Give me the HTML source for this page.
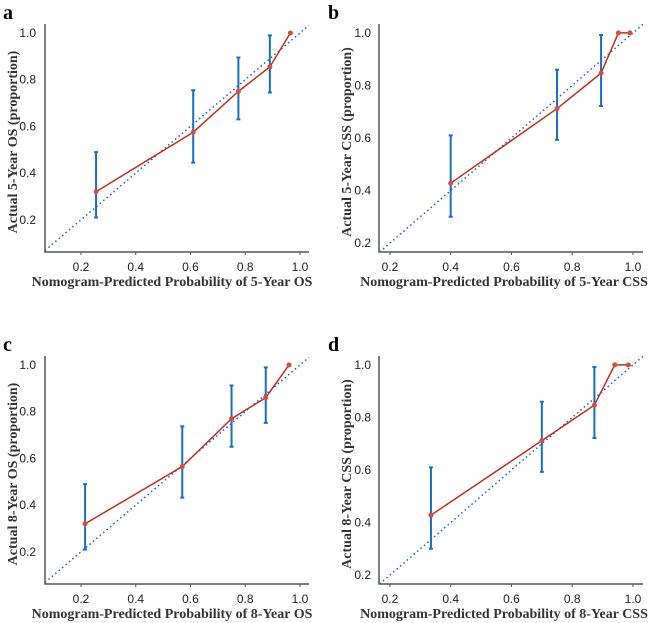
<!DOCTYPE html>
<html><head><meta charset="utf-8">
<style>
body{margin:0;background:#fff;}
svg{display:block;}
.tick{font-family:"Liberation Sans",sans-serif;font-size:12px;fill:#222;}
.title{font-family:"Liberation Serif",serif;font-weight:bold;font-size:14px;fill:#333;}
.letter{font-family:"Liberation Serif",serif;font-weight:bold;font-size:20px;fill:#000;}
</style></head>
<body>
<svg id="chart" width="650" height="623" viewBox="0 0 650 623" xmlns="http://www.w3.org/2000/svg"></svg>
<script>
// Panel data
const panelLetters = ["a","b","c","d"];
const xTitles = ["Nomogram-Predicted Probability of 5-Year OS","Nomogram-Predicted Probability of 5-Year CSS","Nomogram-Predicted Probability of 8-Year OS","Nomogram-Predicted Probability of 8-Year CSS"];
const yTitles = ["Actual 5-Year OS (proportion)","Actual 5-Year CSS (proportion)","Actual 8-Year OS (proportion)","Actual 8-Year CSS (proportion)"];
const tickLabels = [0.2,0.4,0.6,0.8,1.0];
const predA = [0.255,0.61,0.775,0.89,0.965];
const obsA  = [0.32,0.575,0.75,0.855,1.0];
const loA   = [0.21,0.445,0.63,0.745];
const hiA   = [0.49,0.755,0.895,0.99];
const predB = [0.40,0.75,0.895,0.952,0.99];
const obsB  = [0.428,0.712,0.847,1.0,1.0];
const loB   = [0.30,0.593,0.722];
const hiB   = [0.61,0.86,0.992];
const predC = [0.215,0.57,0.75,0.875,0.96];
const obsC  = [0.32,0.565,0.77,0.86,1.0];
const loC   = [0.21,0.432,0.65,0.752];
const hiC   = [0.49,0.737,0.912,0.99];
const predD = [0.335,0.70,0.873,0.94,0.985];
const obsD  = [0.428,0.712,0.847,1.0,1.0];
const loD   = [0.30,0.593,0.722];
const hiD   = [0.61,0.86,0.992];

const NS="http://www.w3.org/2000/svg";
const svg=document.getElementById('chart');
function mk(tag,attrs,parent){const e=document.createElementNS(NS,tag);for(const k in attrs)e.setAttribute(k,attrs[k]);(parent||svg).appendChild(e);return e;}

const layouts=[
 {ox:0,oy:0,x0:0.0685,x1:1.033,y0:0.062,y1:1.0385,L:45,R:309,B:252,T:24,ytx:36,ytitx:12,xtc:172},
 {ox:325,oy:0,x0:0.164,x1:1.033,y0:0.166,y1:1.034,L:54,R:318,B:252,T:24,ytx:46,ytitx:21,xtc:179},
];
const panels=[
 {lay:0,dy:0,pred:predA,obs:obsA,lo:loA,hi:hiA},
 {lay:1,dy:0,pred:predB,obs:obsB,lo:loB,hi:hiB},
 {lay:0,dy:332,pred:predC,obs:obsC,lo:loC,hi:hiC},
 {lay:1,dy:332,pred:predD,obs:obsD,lo:loD,hi:hiD},
];

panels.forEach((p,i)=>{
 const l=layouts[p.lay];
 const g=mk('g',{transform:`translate(${l.ox},${p.dy})`});
 
 
 const sx=v=>l.L+(v-l.x0)/(l.x1-l.x0)*(l.R-l.L);
 const sy=v=>l.B-(v-l.y0)/(l.y1-l.y0)*(l.B-l.T);
 const letter=mk('text',{x:3,y:19,class:'letter'},g);letter.textContent=panelLetters[i];
 
 
 const ax=mk('path',{d:`M${l.L},${l.T}V${l.B}H${l.R}`,fill:'none',stroke:'#555','stroke-width':1.5},g);
 
 
 tickLabels.forEach(t=>{
   const tx=mk('text',{x:sx(t),y:l.B+19,class:'tick','text-anchor':'middle'},g);tx.textContent=t.toFixed(1);
   
   
   mk('line',{x1:sx(t),x2:sx(t),y1:l.B,y2:l.B+3,stroke:'#555'},g);
   const ty=mk('text',{x:l.ytx,y:sy(t)+4,class:'tick','text-anchor':'end'},g);ty.textContent=t.toFixed(1);
   
   
 });
 const xt=mk('text',{x:l.xtc,y:286,class:'title','text-anchor':'middle'},g);xt.textContent=xTitles[i];
 
 
 const yc=(l.T+l.B)/2+4;
 const yt=mk('text',{x:0,y:0,class:'title','text-anchor':'middle',transform:`translate(${l.ytitx+5},${yc}) rotate(-90)`},g);yt.textContent=yTitles[i];
 
 
 const d0=Math.max(l.x0,l.y0),d1=Math.min(l.x1,l.y1);
 const diag=mk('line',{x1:sx(d0),y1:sy(d0),x2:sx(d1),y2:sy(d1),stroke:'#1f5fc0','stroke-width':1.5,'stroke-dasharray':'1.5 3'},g);
 
 
 p.lo.forEach((lo,k)=>{
   const x=sx(p.pred[k]);
   const eb=mk('path',{d:`M${x},${sy(lo)}V${sy(p.hi[k])}M${x-2},${sy(lo)}h4M${x-2},${sy(p.hi[k])}h4`,stroke:'#1c6dc0','stroke-width':2,fill:'none'},g);
   
   
 });
 const pts=p.pred.map((v,k)=>sx(v)+','+sy(p.obs[k])).join(' ');
 const pl=mk('polyline',{points:pts,fill:'none',stroke:'#b5331f','stroke-width':1.5},g);
 
 
 p.pred.forEach((v,k)=>{
   const c=mk('circle',{cx:sx(v),cy:sy(p.obs[k]),r:2.5,fill:'#d0503a'},g);
   
   
 });
});
</script>
</body></html>
